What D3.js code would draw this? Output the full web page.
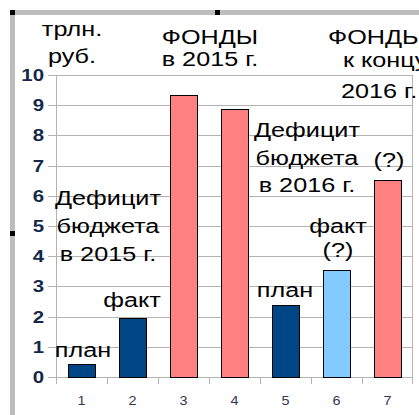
<!DOCTYPE html>
<meta charset="utf-8">
<style>
body { margin: 0; background: #fff; }
text { font-family: "Liberation Sans", Arial, sans-serif; }
</style>
<body>
<script src="https://d3js.org/d3.v7.min.js"></script>
<script>

// data
var categories = ["1", "2", "3", "4", "5", "6", "7"];
var values = [0.43, 1.95, 9.33, 8.87, 2.38, 3.55, 6.52];
var kinds = ["plan", "fact", "fund", "fund", "plan", "guess", "fund"];
var yTicks = [0, 1, 2, 3, 4, 5, 6, 7, 8, 9, 10];

var width = 419, height = 415;
var colors = { plan: "#004586", fact: "#004586", fund: "#ff8080", guess: "#83caff" };
var stretch = 1.2;   // the picture is a bit wider than tall

var svg = d3.select("body").append("svg")
    .attr("width", width)
    .attr("height", height);

var x = d3.scaleBand()
    .domain(categories)
    .range([56, 413])
    .paddingInner(0.47)
    .paddingOuter(0.235);

var y = d3.scaleLinear()
    .domain([0, 10])
    .range([377, 75]);

// frame of the embedded object
svg.append("rect").attr("x", 10).attr("y", 10).attr("width", 409).attr("height", 5).attr("fill", "#bdbdbd");
svg.append("rect").attr("x", 10).attr("y", 10).attr("width", 5).attr("height", 405).attr("fill", "#bdbdbd");
[[10, 10], [215, 10], [10, 231]].forEach(function(p) {
  svg.append("rect").attr("x", p[0]).attr("y", p[1]).attr("width", 5).attr("height", 5).attr("fill", "#000");
});

// grid
svg.append("g").selectAll("line").data(yTicks).enter().append("line")
  .attr("x1", 48).attr("x2", 413)
  .attr("y1", function(d){ return Math.round(y(d)) + 0.5; })
  .attr("y2", function(d){ return Math.round(y(d)) + 0.5; })
  .attr("stroke", "#b3b3b3");

svg.append("line").attr("x1", 56.5).attr("x2", 56.5).attr("y1", y(10)).attr("y2", y(0) + 7)
  .attr("stroke", "#b3b3b3");
svg.append("line").attr("x1", 412.5).attr("x2", 412.5).attr("y1", y(10)).attr("y2", y(0) + 7)
  .attr("stroke", "#b3b3b3");

// ticks between categories
svg.append("g").selectAll("line").data(categories.slice(1)).enter().append("line")
  .attr("x1", function(d){ return Math.round(x(d) - x.step() * 0.235) + 0.5; })
  .attr("x2", function(d){ return Math.round(x(d) - x.step() * 0.235) + 0.5; })
  .attr("y1", y(0)).attr("y2", y(0) + 7)
  .attr("stroke", "#b3b3b3");

// bars
svg.append("g").selectAll("rect").data(values).enter().append("rect")
  .attr("x", function(d, i){ return Math.round(x(categories[i])) + 0.5; })
  .attr("y", function(d){ return Math.round(y(d)) + 0.5; })
  .attr("width", Math.round(x.bandwidth()))
  .attr("height", function(d){ return Math.round(y(0)) - Math.round(y(d)); })
  .attr("fill", function(d, i){ return colors[kinds[i]]; })
  .attr("stroke", "#000")
  .attr("stroke-width", 1);

function stretched(sel, px, py) {
  return sel.attr("transform", "translate(" + px + "," + py + ") scale(" + stretch + ",1)");
}

// y labels
svg.append("g").selectAll("text").data(yTicks).enter().append("text")
  .each(function(d){ stretched(d3.select(this), 44, y(d) + 6); })
  .attr("text-anchor", "end")
  .attr("font-size", 17)
  .attr("font-weight", "bold")
  .attr("fill", "#14284a")
  .text(function(d){ return d; });

// x labels
svg.append("g").selectAll("text").data(categories).enter().append("text")
  .each(function(d){ stretched(d3.select(this), x(d) + x.bandwidth() / 2, 405); })
  .attr("text-anchor", "middle")
  .attr("font-size", 12)
  .attr("fill", "#353552")
  .text(function(d){ return d; });

// annotations
function label(lines, cx, y0, lh, anchor) {
  var g = svg.append("g");
  lines.forEach(function(t, i) {
    stretched(g.append("text"), cx, y0 + i * lh)
      .attr("text-anchor", anchor || "middle")
      .attr("font-size", 21)
      .attr("fill", "#000")
      .text(t);
  });
}

label(["трлн.", "руб."], 72, 36, 27);
label(["ФОНДЫ", "в 2015 г."], 210, 44, 22);
label(["ФОНДЫ"], 328, 44, 0, "start");
label(["к концу"], 343, 67, 0, "start");
label(["2016 г."], 341, 98, 0, "start");
label(["Дефицит", "бюджета", "в 2015 г."], 108, 205, 28);
label(["Дефицит", "бюджета", "в 2016 г."], 307, 137, 27.5);
label(["(?)"], 389, 167, 0);
label(["факт", "(?)"], 338, 233, 24);
label(["план"], 285, 297, 0);
label(["план"], 83, 357, 0);
label(["факт"], 132, 307, 0);

</script>
</body>
